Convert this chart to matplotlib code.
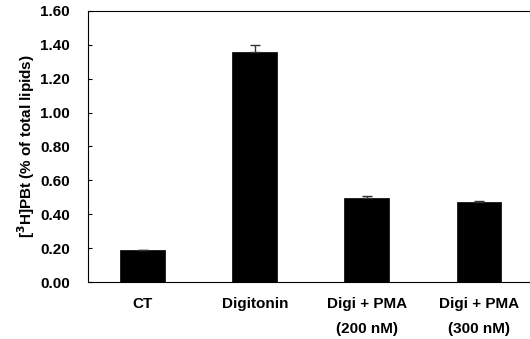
import matplotlib.pyplot as plt
import matplotlib.ticker as ticker

plt.rcParams["font.family"] = ["Liberation Sans", "DejaVu Sans"]
plt.rcParams["font.weight"] = "bold"

categories = ["CT", "Digitonin", "Digi + PMA\n(200 nM)", "Digi + PMA\n(300 nM)"]
values = [0.19, 1.36, 0.494, 0.470]
errors = [0.0, 0.036, 0.014, 0.006]
yticks = [0.0, 0.2, 0.4, 0.6, 0.8, 1.0, 1.2, 1.4, 1.6]

fig = plt.figure(figsize=(5.30, 3.39), dpi=100)
ax = fig.add_axes([0.166, 0.168, 0.834, 0.800])

x = list(range(len(categories)))
ax.bar(x, values, width=0.4, color="black", edgecolor="black", linewidth=0.5,
       yerr=[[0] * len(errors), errors], error_kw=dict(ecolor="#333333", elinewidth=1.0,
                                                        capsize=3.5, capthick=1.0))

ax.set_xlim(-0.49, 3.456)
ax.set_ylim(0, 1.6)
ax.set_yticks(yticks)
ax.yaxis.set_major_formatter(ticker.FormatStrFormatter("%.2f"))
ax.set_xticks(x)
ax.set_xticklabels(categories, fontsize=11, fontweight="bold", linespacing=2.0)
ax.tick_params(axis="x", length=0, pad=11)
ax.tick_params(axis="y", direction="in", length=3, labelsize=11, pad=13)
for lbl in ax.get_yticklabels():
    lbl.set_fontweight("bold")
ax.spines["right"].set_visible(False)
ax.set_ylabel(r"[$^{3}$H]PBt (% of total lipids)", fontsize=11, fontweight="bold", labelpad=2)

fig.savefig("out.png", dpi=100)
